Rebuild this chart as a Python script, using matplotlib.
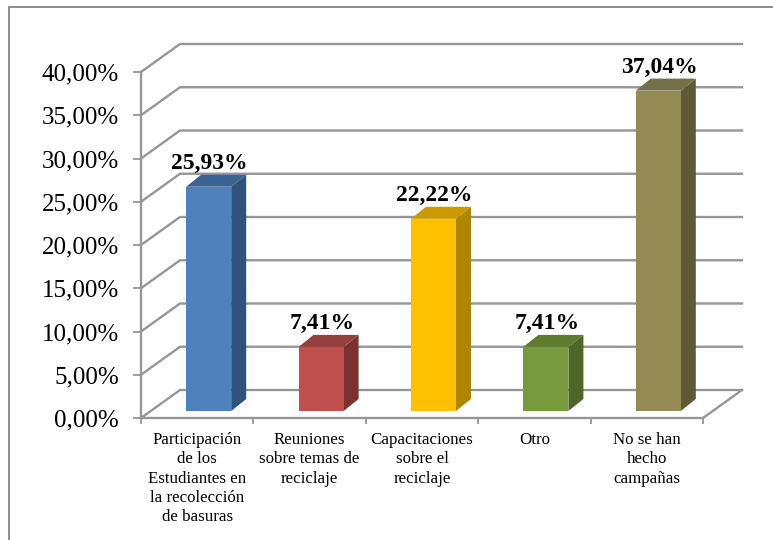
# -*- coding: utf-8 -*-

import matplotlib
matplotlib.use('Agg')
import matplotlib.pyplot as plt
from matplotlib.lines import Line2D
from matplotlib.patches import Polygon, Rectangle

categorias = ['Participación\nde los\nEstudiantes en\nla recolección\nde basuras',
              'Reuniones\nsobre temas de\nreciclaje',
              'Capacitaciones\nsobre el\nreciclaje',
              'Otro',
              'No se han\nhecho\ncampañas']
valores = [25.93, 7.41, 22.22, 7.41, 37.04]
etiquetas = ['25,93%', '7,41%', '22,22%', '7,41%', '37,04%']
ticks = [0, 5, 10, 15, 20, 25, 30, 35, 40]
tick_labels = ['0,00%', '5,00%', '10,00%', '15,00%', '20,00%', '25,00%', '30,00%', '35,00%', '40,00%']
col_frente = ['#4F81BD', '#C0504D', '#FFC000', '#779A3C', '#948A54']
col_lado = ['#30527C', '#7C312F', '#B08500', '#4E6626', '#5F5936']
col_tapa = ['#3A6393', '#95403D', '#CC9A00', '#5F7B2F', '#76704A']

W, H = 773, 540
GRIS = '#969696'

plt.rcParams['font.family'] = ['Liberation Serif', 'DejaVu Serif']

fig = plt.figure(figsize=(W / 100, H / 100), dpi=100)

# borde del grafico (solo se ve arriba y a la izquierda)
fig.add_artist(Line2D([9 / W, 9 / W, 1], [0, 1 - 6.5 / H, 1 - 6.5 / H], color='#8C8C8C', lw=1.4))

# plano frontal del eje
x0, x1, y_top, y_bot = 141, 703, 72, 418
ax = fig.add_axes([x0 / W, 1 - y_bot / H, (x1 - x0) / W, (y_bot - y_top) / H])
ax.set_xlim(0, 5)
ax.set_ylim(0, 40)

ux = (x1 - x0) / 5.0
uy = (y_bot - y_top) / 40.0


def px(dx, dy):
    # desplazamiento en pixeles a unidades de datos
    return dx / ux, dy / uy


# fondo oblicuo
bx, by = px(39, 28)
for t in ticks:
    ax.plot([0, bx, 5 + bx], [t, t + by, t + by], color=GRIS, lw=1.7, clip_on=False,
            solid_joinstyle='miter', zorder=1)
ax.plot([5, 5 + bx], [0, by], color=GRIS, lw=1.7, clip_on=False, zorder=1)

# barras
ancho = 45 / ux
ox, oy = px(11.5, 7)
sx, sy = px(15, 12)
for i, v in enumerate(valores):
    l = i + 0.5 + ox - ancho / 2
    r = l + ancho
    b = oy
    t = oy + v
    ax.add_patch(Polygon([(r, b), (r + sx, b + sy), (r + sx, t + sy), (r, t)],
                         fc=col_lado[i], ec='none', clip_on=False, zorder=3))
    ax.add_patch(Polygon([(l, t), (r, t), (r + sx, t + sy), (l + sx, t + sy)],
                         fc=col_tapa[i], ec='none', clip_on=False, zorder=3))
    ax.add_patch(Rectangle((l, b), ancho, v, fc=col_frente[i], ec='none', clip_on=False, zorder=4))
    ax.text(i + 0.5 + ox + 1 / ux, t + sy + 1 / uy, etiquetas[i], ha='center', va='bottom',
            fontsize=17, fontweight='bold', color='black', zorder=5, clip_on=False)

for s in ['top', 'right']:
    ax.spines[s].set_visible(False)
for s in ['left', 'bottom']:
    ax.spines[s].set_color(GRIS)
    ax.spines[s].set_linewidth(1.7)
    ax.spines[s].set_zorder(2)
ax.patch.set_alpha(0)

ax.set_yticks(ticks)
ax.set_yticklabels(tick_labels, fontsize=18, color='black')
ax.set_xticks(range(6))
ax.set_xticklabels([])
ax.tick_params(axis='y', length=6, width=1.3, color=GRIS, direction='out', pad=10)
ax.tick_params(axis='x', length=4, width=1.3, color=GRIS, direction='out')

for i, c in enumerate(categorias):
    ax.annotate(c, xy=(i + 0.5, 0), xycoords='data', xytext=(0, -14), textcoords='offset pixels',
                ha='center', va='top', fontsize=12.2, color='black', linespacing=1.28,
                annotation_clip=False)

fig.savefig('out.png', dpi=100)
